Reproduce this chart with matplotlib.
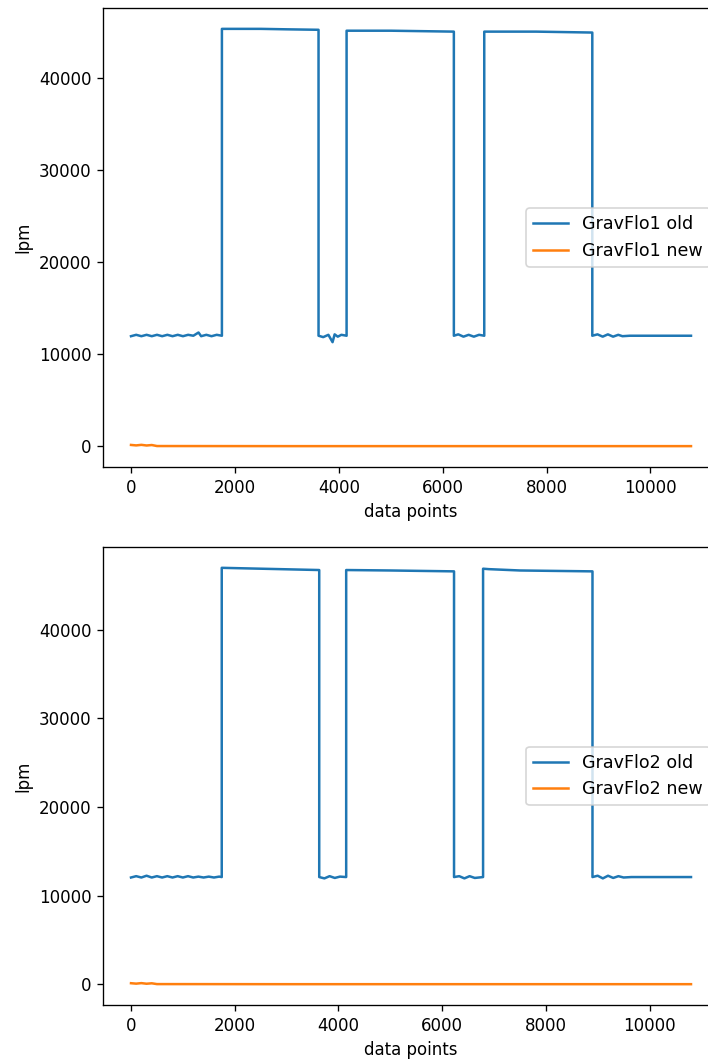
import matplotlib
matplotlib.use("Agg")
import matplotlib.pyplot as plt

# ---- data (vertices) ----
x_old1 = [0, 100, 200, 300, 400, 500, 600, 700, 800, 900, 1000, 1100, 1200, 1300, 1350, 1450, 1550, 1650, 1750,
          1750, 2500, 3000, 3610,
          3610, 3700, 3800, 3880, 3920, 3980, 4050, 4150,
          4150, 5000, 6215,
          6215, 6300, 6400, 6500, 6600, 6700, 6800,
          6800, 7800, 8880,
          8880, 8980, 9080, 9180, 9280, 9380, 9460, 9600, 10780]
y_old1 = [11950, 12100, 11950, 12100, 11950, 12100, 11950, 12100, 11950, 12100, 11950, 12100, 12000, 12350, 11950, 12100, 11950, 12100, 12000,
          45300, 45300, 45250, 45200,
          12000, 11850, 12100, 11300, 12150, 11900, 12100, 12000,
          45100, 45100, 45000,
          12000, 12150, 11900, 12100, 11900, 12100, 12000,
          45000, 45000, 44900,
          12000, 12150, 11900, 12150, 11900, 12100, 11950, 12000, 12000]

x_new1 = [0, 100, 200, 300, 400, 500, 3000, 6000, 9000, 10780]
y_new1 = [150, 100, 160, 90, 140, 30, 20, 20, 20, 20]

x_old2 = [0, 100, 200, 300, 400, 500, 600, 700, 800, 900, 1000, 1100, 1200, 1300, 1400, 1500, 1600, 1700, 1750,
          1750, 2500, 3630,
          3630, 3730, 3830, 3930, 4030, 4150,
          4150, 5000, 6230,
          6230, 6330, 6430, 6530, 6630, 6790,
          6790, 6900, 7500, 8900,
          8900, 9000, 9100, 9200, 9300, 9400, 9500, 9650, 10800]
y_old2 = [12050, 12200, 12050, 12250, 12050, 12200, 12050, 12200, 12050, 12200, 12050, 12200, 12050, 12150, 12050, 12150, 12050, 12150, 12100,
          47000, 46900, 46750,
          12100, 11950, 12200, 12000, 12150, 12100,
          46750, 46700, 46600,
          12100, 12200, 11950, 12200, 12000, 12100,
          46900, 46850, 46700, 46600,
          12100, 12250, 11950, 12250, 12000, 12200, 12050, 12100, 12100]

x_new2 = [0, 100, 200, 300, 400, 500, 3000, 6000, 9000, 10800]
y_new2 = [120, 70, 130, 60, 110, 20, 10, 10, 10, 10]

labels1 = ["GravFlo1 old", "GravFlo1 new"]
labels2 = ["GravFlo2 old", "GravFlo2 new"]

W, H = 708, 1059
dpi = 120
fig = plt.figure(figsize=(W / dpi, H / dpi), dpi=dpi)

def axpos(left, top, right, bottom):
    return [left / W, 1 - bottom / H, (right - left) / W, (bottom - top) / H]

ax1 = fig.add_axes(axpos(103, 8, 719, 467))
ax2 = fig.add_axes(axpos(103, 547, 719, 1005))

for ax, xo, yo, xn, yn, labs in [
    (ax1, x_old1, y_old1, x_new1, y_new1, labels1),
    (ax2, x_old2, y_old2, x_new2, y_new2, labels2),
]:
    ax.plot(xo, yo, color="#1f77b4", lw=1.5, label=labs[0])
    ax.plot(xn, yn, color="#ff7f0e", lw=1.5, label=labs[1])
    ax.set_xlabel("data points")
    ax.set_ylabel("lpm")
    ax.set_xticks([0, 2000, 4000, 6000, 8000, 10000])
    ax.legend(loc="center right", fontsize=10.5)

fig.savefig("out.png", dpi=dpi)
